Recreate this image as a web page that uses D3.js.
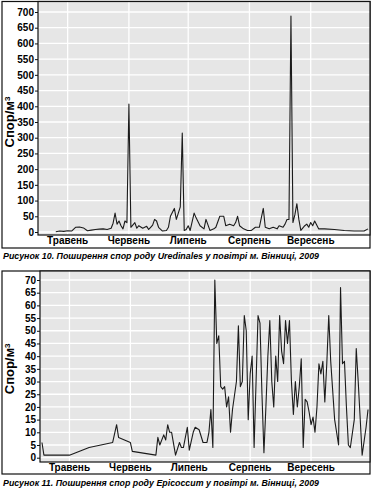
<!DOCTYPE html>
<html lang="uk">
<head>
<meta charset="UTF-8">
<title>Uredinales / Epicoccum</title>
<script src="https://d3js.org/d3.v7.min.js"></script>
<style>
  body { margin: 0; background: #fff; }
  svg { display: block; }
  .tick-label { font-family: "Liberation Sans", Arial, sans-serif; font-weight: bold; font-size: 10px; fill: #000; }
  .month-label { font-family: "Liberation Sans", Arial, sans-serif; font-weight: bold; font-size: 10px; fill: #000; }
  .y-title { font-family: "Liberation Sans", Arial, sans-serif; font-weight: bold; font-size: 13px; fill: #000; }
  .caption { font-family: "Liberation Sans", Arial, sans-serif; font-weight: bold; font-style: italic; font-size: 9.6px; fill: #000; }
</style>
</head>
<body>
<svg id="chart" width="375" height="493"></svg>
<script>
// day of year 2009 -> value
const uredDays = [115,117,119,121,123,125,127,129,131,133,135,137,139,141,143,144,145,146,147,148,149,150,151,152,153,155,156,157,159,161,162,163,164,165,166,167,169,171,172,173,175,176,178,179,180,181,182,183,185,186,188,190,191,193,195,196,198,200,201,203,205,206,207,208,210,212,214,216,218,220,221,223,225,227,228,230,231,232,233,234,235,236,237,238,239,241,242,243,244,245,246,248,251,256,261,266,271,273];
const uredValues = [1,3,2,4,3,15,16,13,4,6,8,9,10,8,12,28,60,25,35,20,10,35,30,407,15,30,12,20,12,18,8,15,22,40,35,15,3,5,15,50,75,40,80,315,5,8,20,5,60,45,20,10,40,5,10,15,50,50,20,25,20,30,50,20,10,5,5,15,15,75,15,10,15,10,20,15,25,40,40,687,30,55,90,40,5,20,25,15,30,20,35,10,10,8,5,3,3,10];

const epicDays = [107,108,121,131,143,145,146,152,153,165,166,167,169,170,171,172,173,175,177,178,179,181,182,184,185,187,189,191,192,193,194,195,196,197,198,199,200,201,202,203,204,206,207,208,209,210,211,212,213,214,215,216,217,218,219,220,221,222,223,224,225,226,227,228,229,230,231,232,233,234,235,236,237,238,239,240,241,242,243,244,245,246,247,248,249,250,251,252,253,254,256,258,259,260,261,262,263,264,266,267,268,270,272,273];
const epicValues = [6,1,1,4,6,13,8,6,2.5,1,8,5,9,7,13,10,10,1,6,4,4,12,3,10,12,11,6,6,10,19,4,70,45,48,28,27,28,20,24,10,19,30,52,28,30,56,50,15,33,40,4,30,56,53,25,2,20,40,54,30,20,40,30,56,42,37,54,45,54,30,17,30,20,28,39,4,23,22,18,13,16,10,20,37,33,38,22,37,56,38,15,5,67,37,38,20,5,4,15,43,30,1,12,19];

const monthNames = ["Травень", "Червень", "Липень", "Серпень", "Вересень"];
const uredTicks = d3.range(0, 701, 50);
const epicTicks = d3.range(0, 71, 5);

const svg = d3.select("#chart");
const toDate = d => new Date(2009, 0, d);
const start = new Date(2009, 3, 16), end = new Date(2009, 9, 1);

function drawPanel(cfg) {
  const g = svg.append("g");
  const x = d3.scaleTime().domain([start, end]).range([cfg.left, cfg.right]);
  const y = d3.scaleLinear().domain([0, cfg.max]).range([cfg.y0, cfg.yMax]);

  // outer frame
  g.append("rect")
    .attr("x", cfg.frameLeft).attr("y", cfg.top)
    .attr("width", cfg.right - cfg.frameLeft).attr("height", cfg.frameBottom - cfg.top)
    .attr("fill", "none").attr("stroke", "#111").attr("stroke-width", 1.2);

  // plot background
  g.append("rect")
    .attr("x", cfg.left).attr("y", cfg.top)
    .attr("width", cfg.right - cfg.left).attr("height", cfg.bottom - cfg.top)
    .attr("fill", "#e6e6e6");

  // grid
  g.append("g").selectAll("line").data(cfg.ticks).join("line")
    .attr("x1", cfg.left).attr("x2", cfg.right)
    .attr("y1", d => y(d)).attr("y2", d => y(d))
    .attr("stroke", "#fff").attr("stroke-width", 1.3);
  const months = d3.timeMonth.range(new Date(2009, 4, 1), new Date(2009, 9, 1));
  g.append("g").selectAll("line").data(months).join("line")
    .attr("x1", d => x(d)).attr("x2", d => x(d))
    .attr("y1", cfg.top).attr("y2", cfg.bottom)
    .attr("stroke", "#fff").attr("stroke-width", 1.3);

  // plot border
  g.append("rect")
    .attr("x", cfg.left).attr("y", cfg.top)
    .attr("width", cfg.right - cfg.left).attr("height", cfg.bottom - cfg.top)
    .attr("fill", "none").attr("stroke", "#111").attr("stroke-width", 1.2);

  // y axis
  const yAxis = g.append("g")
    .attr("transform", `translate(${cfg.left},0)`)
    .call(d3.axisLeft(y).tickValues(cfg.ticks).tickSize(3).tickPadding(1));
  yAxis.select(".domain").remove();
  yAxis.selectAll("line").attr("stroke", "#111");
  yAxis.selectAll("text").attr("class", "tick-label").attr("font-family", null).attr("font-size", null);

  // months
  g.append("g").selectAll("text").data(months).join("text")
    .attr("class", "month-label")
    .attr("x", d => x(d)).attr("y", cfg.monthY)
    .attr("text-anchor", "middle")
    .text((d, i) => monthNames[i]);

  // y title
  g.append("text").attr("class", "y-title")
    .attr("transform", `translate(${cfg.titleX},${(cfg.y0 + cfg.yMax) / 2}) rotate(-90)`)
    .attr("text-anchor", "middle")
    .html("Спор/м<tspan dy='-4' font-size='8px'>3</tspan>");

  // series
  const pts = cfg.days.map((d, i) => ({ date: toDate(d), value: cfg.values[i] }));
  g.append("path").datum(pts)
    .attr("fill", "none").attr("stroke", "#1b1b1b").attr("stroke-width", 1.1)
    .attr("stroke-linejoin", "round")
    .attr("d", d3.line().x(d => x(d.date)).y(d => y(d.value)));

  // caption
  g.append("text").attr("class", "caption")
    .attr("x", 3).attr("y", cfg.captionY)
    .attr("textLength", 316).attr("lengthAdjust", "spacingAndGlyphs")
    .text(cfg.caption);
}

drawPanel({
  days: uredDays, values: uredValues, ticks: uredTicks, max: 700,
  frameLeft: 2, left: 38, right: 370, top: 1.5, bottom: 235, frameBottom: 248,
  y0: 232, yMax: 12, monthY: 244, titleX: 14, captionY: 259,
  caption: "Рисунок 10. Поширення спор роду Uredinales у повітрі м. Вінниці, 2009"
});

drawPanel({
  days: epicDays, values: epicValues, ticks: epicTicks, max: 70,
  frameLeft: 2, left: 40, right: 370, top: 271, bottom: 462, frameBottom: 474,
  y0: 457.7, yMax: 280, monthY: 471, titleX: 14, captionY: 486,
  caption: "Рисунок 11. Поширення спор роду Epicoccum у повітрі м. Вінниці, 2009"
});
</script>
</body>
</html>
